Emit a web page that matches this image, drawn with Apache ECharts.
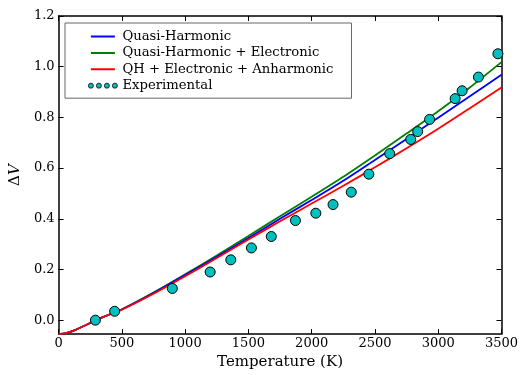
<!DOCTYPE html>
<html>
<head>
<meta charset="utf-8">
<script src="https://cdn.jsdelivr.net/npm/echarts@6/dist/echarts.min.js"></script>
<style>html,body{margin:0;padding:0;background:#fff}#c{width:521px;height:375px}</style>
</head>
<body>
<div id="c"></div>
<script>
var temps = [0, 60, 130, 200, 270, 350, 500, 750, 1000, 1250, 1500, 1750, 2000, 2250, 2500, 2750, 3000, 3250, 3500];
var quasiHarmonic = [-0.055, -0.051, -0.039, -0.023, -0.006, 0.012, 0.042, 0.107, 0.178, 0.250, 0.324, 0.400, 0.474, 0.550, 0.632, 0.715, 0.799, 0.883, 0.968];
var qhElectronic = [-0.055, -0.051, -0.039, -0.023, -0.006, 0.012, 0.043, 0.109, 0.181, 0.255, 0.332, 0.410, 0.487, 0.566, 0.650, 0.736, 0.824, 0.918, 1.018];
var qhElecAnharm = [-0.055, -0.051, -0.039, -0.023, -0.006, 0.012, 0.041, 0.104, 0.173, 0.245, 0.318, 0.390, 0.460, 0.530, 0.603, 0.678, 0.755, 0.836, 0.918];
var expTemps = [291, 443, 899, 1198, 1361, 1524, 1681, 1872, 2033, 2169, 2313, 2452, 2617, 2783, 2838, 2932, 3134, 3189, 3318, 3472];
var expValues = [0.000, 0.035, 0.125, 0.190, 0.238, 0.285, 0.330, 0.393, 0.422, 0.456, 0.505, 0.576, 0.657, 0.713, 0.744, 0.792, 0.874, 0.905, 0.959, 1.051];
var xTicks = [0, 500, 1000, 1500, 2000, 2500, 3000, 3500];
var yTicks = [0.0, 0.2, 0.4, 0.6, 0.8, 1.0, 1.2];

function pairs(xs, ys) { return xs.map(function (x, i) { return [x, ys[i]]; }); }

var serif = 'DejaVu Serif';
var lineIcon = 'path://M0,1L0,1ZM29,1L29,1ZM2.5,0L26.5,0L26.5,2L2.5,2Z';
var dotsIcon = 'path://M0,2.5a2.5,2.5 0 1,0 5,0a2.5,2.5 0 1,0 -5,0ZM8,2.5a2.5,2.5 0 1,0 5,0a2.5,2.5 0 1,0 -5,0ZM16,2.5a2.5,2.5 0 1,0 5,0a2.5,2.5 0 1,0 -5,0ZM24,2.5a2.5,2.5 0 1,0 5,0a2.5,2.5 0 1,0 -5,0Z';

var chart = echarts.init(document.getElementById('c'), null, {renderer: 'canvas'});
var axisLineStyle = {color: '#000', width: 1.5};
var tickStyle = {color: '#000', width: 1};
chart.setOption({
  animation: false,
  backgroundColor: '#fff',
  grid: {left: 57, right: 19, top: 16, bottom: 36, containLabel: false},
  legend: {
    orient: 'vertical',
    left: 65, top: 23,
    padding: [7, 18, 6, 23],
    itemWidth: 29, itemHeight: 13, itemGap: 3.4,
    borderColor: '#666', borderWidth: 1, backgroundColor: '#fff',
    textStyle: {fontFamily: serif, fontSize: 13.2, color: '#000'},
    data: [
      {name: 'Quasi-Harmonic', icon: lineIcon},
      {name: 'Quasi-Harmonic + Electronic', icon: lineIcon},
      {name: 'QH + Electronic + Anharmonic', icon: lineIcon},
      {name: 'Experimental', icon: dotsIcon, itemStyle: {borderWidth: 0.8}}
    ]
  },
  xAxis: [{
    type: 'value', min: 0, max: 3500, interval: 500,
    name: 'Temperature (K)', nameLocation: 'middle', nameGap: 20,
    nameTextStyle: {fontFamily: serif, fontSize: 15, color: '#000'},
    axisLine: {show: true, onZero: false, lineStyle: axisLineStyle},
    axisTick: {show: true, inside: true, length: 5, customValues: xTicks, lineStyle: tickStyle},
    axisLabel: {fontFamily: serif, fontSize: 13, color: '#000', margin: 3, customValues: xTicks,
      formatter: function (v) { return String(v); }},
    splitLine: {show: false}
  }, {
    type: 'value', min: 0, max: 3500, interval: 500, position: 'top',
    axisLine: {show: true, onZero: false, lineStyle: axisLineStyle},
    axisTick: {show: true, inside: true, length: 5, customValues: xTicks, lineStyle: tickStyle},
    axisLabel: {show: false}, splitLine: {show: false}
  }],
  yAxis: [{
    type: 'value', min: -0.055, max: 1.2,
    name: '{a|Δ}{b|V}', nameLocation: 'middle', nameGap: 35, nameRotate: 90,
    nameTextStyle: {rich: {
      a: {fontFamily: serif, fontSize: 15, color: '#000'},
      b: {fontFamily: serif, fontSize: 15, fontStyle: 'italic', color: '#000'}
    }},
    axisLine: {show: true, onZero: false, lineStyle: axisLineStyle},
    axisTick: {show: true, inside: true, length: 5, customValues: yTicks, lineStyle: tickStyle},
    axisLabel: {fontFamily: serif, fontSize: 13, color: '#000', margin: 4, customValues: yTicks,
      formatter: function (v) { return v.toFixed(1); }},
    splitLine: {show: false}
  }, {
    type: 'value', min: -0.055, max: 1.2, position: 'right',
    axisLine: {show: true, onZero: false, lineStyle: axisLineStyle},
    axisTick: {show: true, inside: true, length: 5, customValues: yTicks, lineStyle: tickStyle},
    axisLabel: {show: false}, splitLine: {show: false}
  }],
  series: [
    {name: 'Quasi-Harmonic', type: 'line', data: pairs(temps, quasiHarmonic), smooth: 0.3, showSymbol: false,
      lineStyle: {color: '#0000ff', width: 1.8}, itemStyle: {color: '#0000ff'}, z: 3},
    {name: 'Quasi-Harmonic + Electronic', type: 'line', data: pairs(temps, qhElectronic), smooth: 0.3, showSymbol: false,
      lineStyle: {color: '#008000', width: 1.8}, itemStyle: {color: '#008000'}, z: 2},
    {name: 'QH + Electronic + Anharmonic', type: 'line', data: pairs(temps, qhElecAnharm), smooth: 0.3, showSymbol: false,
      lineStyle: {color: '#ff0000', width: 1.8}, itemStyle: {color: '#ff0000'}, z: 4},
    {name: 'Experimental', type: 'scatter', data: pairs(expTemps, expValues), symbol: 'circle', symbolSize: 10,
      itemStyle: {color: '#00bfbf', borderColor: '#000', borderWidth: 1, opacity: 1}, z: 5}
  ]
});
</script>
</body>
</html>
